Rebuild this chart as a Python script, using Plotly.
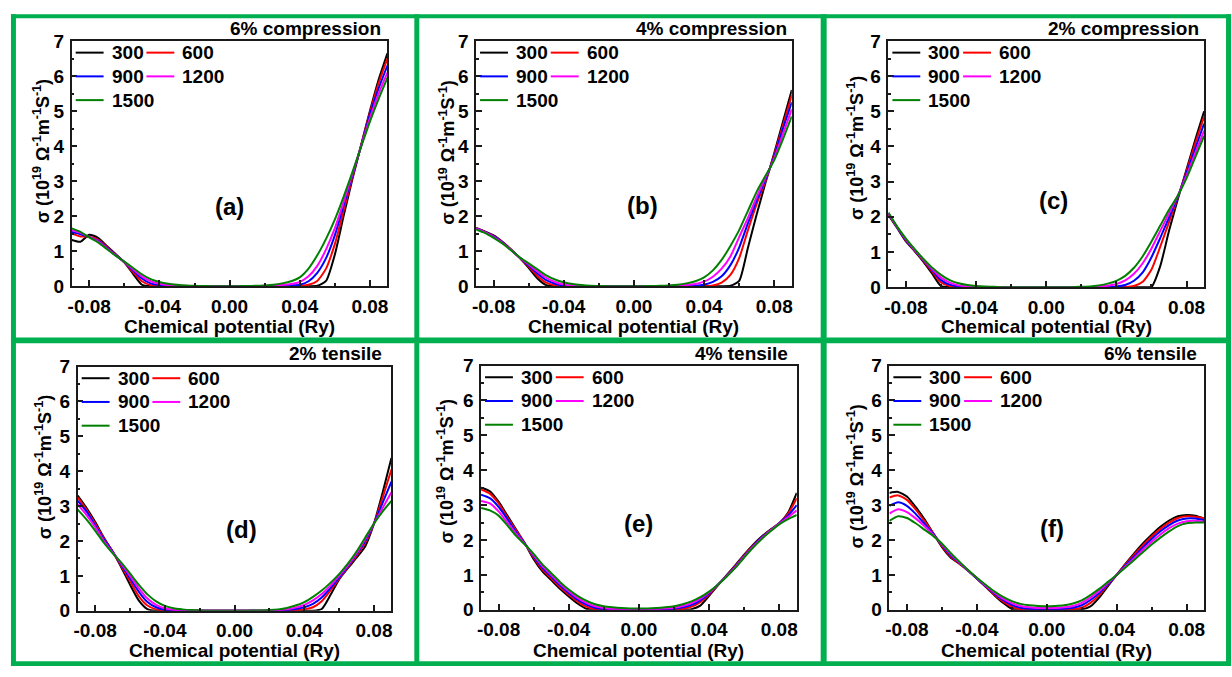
import plotly.graph_objects as go

W, H = 1232, 677

# Chemical potential grid (Ry)
mu = [-0.09, -0.085, -0.08, -0.075, -0.07, -0.065, -0.06, -0.055, -0.05, -0.045,
      -0.04, -0.035, -0.03, -0.025, -0.02, -0.015, -0.01, -0.005, 0.0,
      0.005, 0.01, 0.015, 0.02, 0.025, 0.03, 0.035, 0.04, 0.045, 0.05,
      0.055, 0.06, 0.065, 0.07, 0.075, 0.08, 0.085, 0.09]

temps = ["300", "600", "900", "1200", "1500"]
colors = ["#000000", "#FF0000", "#0000FF", "#FF00FF", "#008000"]

# sigma (1e19 Ohm^-1 m^-1 s^-1), 6% compression
a300 = [1.32, 1.27, 1.47, 1.38, 1.15, 0.92, 0.68, 0.35, 0.04, 0, 0,
        0, 0, 0, 0, 0, 0, 0, 0, 0, 0, 0, 0, 0, 0, 0,
        0, 0, 0.01, 0.15, 0.90, 2.00, 3.05, 4.03, 5.00, 5.90, 6.65]
a600 = [1.50, 1.42, 1.41, 1.33, 1.12, 0.90, 0.68, 0.40, 0.14, 0.03, 0.01,
        0, 0, 0, 0, 0, 0, 0, 0, 0, 0, 0, 0, 0, 0, 0,
        0.01, 0.04, 0.15, 0.50, 1.20, 2.15, 3.10, 4.02, 4.95, 5.80, 6.50]
a900 = [1.55, 1.48, 1.40, 1.30, 1.10, 0.89, 0.69, 0.45, 0.22, 0.08, 0.03,
        0.01, 0, 0, 0, 0, 0, 0, 0, 0, 0, 0, 0, 0, 0, 0.02,
        0.04, 0.14, 0.38, 0.80, 1.45, 2.30, 3.15, 4.00, 4.90, 5.65, 6.30]
a1200 = [1.60, 1.52, 1.40, 1.28, 1.08, 0.88, 0.69, 0.48, 0.28, 0.14, 0.07,
         0.03, 0.01, 0.01, 0, 0, 0, 0, 0, 0, 0, 0, 0.01, 0.01, 0.03, 0.06,
         0.12, 0.28, 0.58, 1.05, 1.65, 2.40, 3.20, 4.00, 4.80, 5.50, 6.10]
a1500 = [1.65, 1.55, 1.39, 1.25, 1.06, 0.87, 0.70, 0.52, 0.34, 0.20, 0.12,
         0.07, 0.04, 0.02, 0.01, 0.005, 0, 0, 0, 0, 0.005, 0.01, 0.02, 0.04, 0.08, 0.14,
         0.25, 0.50, 0.88, 1.35, 1.90, 2.55, 3.25, 3.98, 4.70, 5.35, 5.95]

# 4% compression
b300 = [1.66, 1.56, 1.45, 1.27, 1.05, 0.80, 0.52, 0.22, 0.03, 0, 0,
        0, 0, 0, 0, 0, 0, 0, 0, 0, 0, 0, 0, 0, 0, 0,
        0, 0, 0, 0.01, 0.15, 1.10, 2.05, 2.95, 3.80, 4.70, 5.60]
b600 = [1.66, 1.55, 1.43, 1.26, 1.04, 0.80, 0.56, 0.29, 0.10, 0.02, 0,
        0, 0, 0, 0, 0, 0, 0, 0, 0, 0, 0, 0, 0, 0, 0,
        0, 0.02, 0.10, 0.32, 0.80, 1.60, 2.35, 3.00, 3.75, 4.60, 5.45]
b900 = [1.65, 1.55, 1.42, 1.25, 1.03, 0.81, 0.59, 0.36, 0.17, 0.07, 0.02,
        0.01, 0, 0, 0, 0, 0, 0, 0, 0, 0, 0, 0, 0, 0, 0.01,
        0.04, 0.12, 0.28, 0.60, 1.10, 1.80, 2.45, 3.05, 3.70, 4.50, 5.25]
b1200 = [1.64, 1.54, 1.40, 1.24, 1.03, 0.81, 0.62, 0.42, 0.24, 0.12, 0.05,
         0.02, 0.01, 0.005, 0, 0, 0, 0, 0, 0, 0, 0, 0.01, 0.02, 0.03, 0.06,
         0.13, 0.27, 0.50, 0.85, 1.40, 1.95, 2.55, 3.10, 3.65, 4.35, 5.05]
b1500 = [1.62, 1.52, 1.38, 1.22, 1.02, 0.82, 0.65, 0.48, 0.31, 0.19, 0.11,
         0.06, 0.03, 0.01, 0.005, 0, 0, 0, 0, 0, 0.005, 0.01, 0.02, 0.04, 0.08, 0.14,
         0.25, 0.45, 0.75, 1.15, 1.60, 2.15, 2.70, 3.15, 3.60, 4.20, 4.85]

# 2% compression
c300 = [2.05, 1.68, 1.30, 1.02, 0.72, 0.38, 0.03, 0, 0, 0, 0,
        0, 0, 0, 0, 0, 0, 0, 0, 0, 0, 0, 0, 0, 0, 0,
        0, 0, 0, 0, 0.01, 0.60, 1.60, 2.50, 3.35, 4.20, 5.00]
c600 = [2.08, 1.70, 1.32, 1.04, 0.75, 0.44, 0.13, 0.03, 0.01, 0, 0,
        0, 0, 0, 0, 0, 0, 0, 0, 0, 0, 0, 0, 0, 0, 0,
        0, 0, 0.03, 0.15, 0.50, 1.15, 1.85, 2.55, 3.30, 4.10, 4.85]
c900 = [2.10, 1.70, 1.34, 1.05, 0.77, 0.48, 0.20, 0.07, 0.02, 0.01, 0,
        0, 0, 0, 0, 0, 0, 0, 0, 0, 0, 0, 0, 0, 0, 0.01,
        0.02, 0.06, 0.18, 0.42, 0.85, 1.40, 1.98, 2.57, 3.25, 3.95, 4.65]
c1200 = [2.10, 1.71, 1.36, 1.06, 0.78, 0.51, 0.27, 0.13, 0.05, 0.02, 0.01,
         0, 0, 0, 0, 0, 0, 0, 0, 0, 0, 0, 0, 0, 0.01, 0.04,
         0.09, 0.19, 0.38, 0.68, 1.10, 1.60, 2.10, 2.60, 3.18, 3.82, 4.45]
c1500 = [2.12, 1.72, 1.38, 1.08, 0.80, 0.55, 0.35, 0.20, 0.11, 0.06, 0.03,
         0.015, 0.01, 0, 0, 0, 0, 0, 0, 0, 0, 0, 0.01, 0.02, 0.05, 0.10,
         0.18, 0.32, 0.55, 0.88, 1.30, 1.75, 2.20, 2.60, 3.10, 3.70, 4.30]

# 2% tensile
d300 = [3.30, 2.95, 2.55, 2.10, 1.70, 1.25, 0.75, 0.30, 0.05, 0, 0,
        0, 0, 0, 0, 0, 0, 0, 0, 0, 0, 0, 0, 0, 0, 0,
        0, 0, 0.05, 0.45, 0.90, 1.22, 1.52, 1.85, 2.50, 3.40, 4.38]
d600 = [3.25, 2.90, 2.50, 2.08, 1.70, 1.28, 0.85, 0.42, 0.15, 0.04, 0.01,
        0, 0, 0, 0, 0, 0, 0, 0, 0, 0, 0, 0, 0, 0, 0.02,
        0.04, 0.10, 0.27, 0.58, 0.92, 1.25, 1.58, 1.95, 2.50, 3.25, 4.05]
d900 = [3.15, 2.85, 2.45, 2.05, 1.70, 1.32, 0.93, 0.55, 0.25, 0.10, 0.03,
        0.01, 0, 0, 0, 0, 0, 0, 0, 0, 0, 0, 0, 0, 0.02, 0.05,
        0.10, 0.20, 0.38, 0.65, 0.95, 1.27, 1.62, 2.00, 2.50, 3.10, 3.70]
d1200 = [3.05, 2.75, 2.40, 2.00, 1.68, 1.35, 1.00, 0.65, 0.35, 0.17, 0.07,
         0.03, 0.01, 0, 0, 0, 0, 0, 0, 0, 0, 0, 0, 0.02, 0.04, 0.09,
         0.17, 0.30, 0.48, 0.72, 1.00, 1.30, 1.65, 2.05, 2.50, 2.95, 3.40]
d1500 = [2.90, 2.62, 2.30, 1.95, 1.65, 1.38, 1.07, 0.75, 0.47, 0.27, 0.14,
         0.07, 0.04, 0.02, 0.01, 0, 0, 0, 0, 0, 0.005, 0.01, 0.02, 0.04, 0.08, 0.15,
         0.25, 0.40, 0.58, 0.80, 1.05, 1.35, 1.70, 2.10, 2.50, 2.85, 3.15]

# 4% tensile
e300 = [3.50, 3.40, 3.10, 2.70, 2.30, 1.90, 1.45, 1.10, 0.85, 0.60, 0.38, 0.18, 0.03, 0, 0, 0, 0, 0, 0,
        0, 0, 0, 0, 0, 0.02, 0.12, 0.40, 0.70, 0.99, 1.28, 1.58, 1.86, 2.10, 2.30, 2.48, 2.78, 3.35]
e600 = [3.45, 3.33, 3.05, 2.65, 2.28, 1.90, 1.50, 1.15, 0.90, 0.65, 0.43, 0.24, 0.09, 0.02, 0, 0, 0, 0, 0,
        0, 0, 0, 0.01, 0.03, 0.09, 0.22, 0.44, 0.71, 0.98, 1.26, 1.56, 1.84, 2.08, 2.29, 2.48, 2.75, 3.20]
e900 = [3.30, 3.20, 2.95, 2.60, 2.23, 1.90, 1.53, 1.20, 0.95, 0.70, 0.48, 0.29, 0.15, 0.06, 0.02, 0.01, 0, 0, 0,
        0, 0, 0.01, 0.03, 0.07, 0.14, 0.27, 0.47, 0.72, 0.97, 1.24, 1.54, 1.82, 2.07, 2.28, 2.48, 2.70, 3.00]
e1200 = [3.12, 3.05, 2.82, 2.50, 2.18, 1.88, 1.56, 1.25, 1.00, 0.75, 0.53, 0.34, 0.20, 0.10, 0.05, 0.02, 0.01, 0.01, 0.01,
         0.01, 0.02, 0.04, 0.06, 0.11, 0.19, 0.32, 0.50, 0.72, 0.96, 1.22, 1.52, 1.80, 2.05, 2.27, 2.47, 2.65, 2.85]
e1500 = [2.92, 2.85, 2.70, 2.42, 2.12, 1.87, 1.60, 1.30, 1.05, 0.80, 0.58, 0.40, 0.26, 0.16, 0.10, 0.07, 0.05, 0.04, 0.04,
         0.04, 0.05, 0.07, 0.10, 0.16, 0.24, 0.36, 0.52, 0.72, 0.95, 1.20, 1.50, 1.78, 2.03, 2.25, 2.45, 2.60, 2.72]

# 6% tensile
f300 = [3.35, 3.38, 3.25, 2.95, 2.60, 2.20, 1.80, 1.50, 1.32, 1.12, 0.90, 0.66, 0.42, 0.20, 0.03, 0, 0, 0, 0,
        0, 0, 0, 0.01, 0.10, 0.35, 0.68, 1.00, 1.32, 1.62, 1.90, 2.15, 2.38, 2.56, 2.68, 2.72, 2.70, 2.62]
f600 = [3.22, 3.28, 3.15, 2.88, 2.55, 2.20, 1.83, 1.53, 1.33, 1.12, 0.90, 0.67, 0.44, 0.24, 0.09, 0.02, 0.005, 0, 0,
        0, 0.01, 0.02, 0.06, 0.20, 0.42, 0.72, 1.00, 1.30, 1.58, 1.85, 2.10, 2.32, 2.50, 2.63, 2.68, 2.67, 2.62]
f900 = [2.98, 3.08, 2.98, 2.75, 2.47, 2.18, 1.86, 1.56, 1.35, 1.13, 0.90, 0.68, 0.47, 0.28, 0.14, 0.06, 0.03, 0.02, 0.02,
        0.02, 0.03, 0.06, 0.13, 0.28, 0.48, 0.74, 1.00, 1.27, 1.53, 1.79, 2.03, 2.25, 2.43, 2.56, 2.62, 2.62, 2.57]
f1200 = [2.76, 2.88, 2.80, 2.62, 2.40, 2.15, 1.88, 1.60, 1.36, 1.13, 0.91, 0.70, 0.50, 0.32, 0.19, 0.11, 0.07, 0.05, 0.05,
         0.05, 0.07, 0.11, 0.20, 0.35, 0.54, 0.77, 1.00, 1.24, 1.48, 1.72, 1.95, 2.16, 2.34, 2.47, 2.54, 2.55, 2.52]
f1500 = [2.55, 2.68, 2.63, 2.48, 2.30, 2.12, 1.90, 1.63, 1.38, 1.14, 0.92, 0.72, 0.53, 0.37, 0.25, 0.17, 0.13, 0.11, 0.10,
         0.11, 0.13, 0.18, 0.27, 0.42, 0.60, 0.80, 1.00, 1.21, 1.43, 1.65, 1.87, 2.07, 2.25, 2.40, 2.48, 2.50, 2.50]

panel_series = [
    [a300, a600, a900, a1200, a1500],
    [b300, b600, b900, b1200, b1500],
    [c300, c600, c900, c1200, c1500],
    [d300, d600, d900, d1200, d1500],
    [e300, e600, e900, e1200, e1500],
    [f300, f600, f900, f1200, f1500],
]
panel_titles = ["6% compression", "4% compression", "2% compression",
                "2% tensile", "4% tensile", "6% tensile"]
panel_letters = ["(a)", "(b)", "(c)", "(d)", "(e)", "(f)"]
letter_pos = [(0.0, 2.27), (0.005, 2.3), (0.004, 2.47), (0.004, 2.32), (0.0, 2.46), (0.003, 2.34)]

x_tickvals = [-0.08, -0.04, 0.0, 0.04, 0.08]
x_ticktext = ["-0.08", "-0.04", "0.00", "0.04", "0.08"]
y_tickvals = [0, 1, 2, 3, 4, 5, 6, 7]

# plot-area boxes in pixels: left, right, top, bottom
boxes = [(68, 385, 32, 285), (474, 791, 32, 285), (888, 1205, 32, 286),
         (74, 389, 368, 620), (479, 796, 367, 619), (889, 1205, 367, 619)]
ylabel_pos = [(38, 146), (445, 147), (855, 143), (40, 472), (443, 476), (855, 482)]
title_pos = [(381, 19), (788, 19), (1202, 19), (382, 354), (789, 354), (1200, 354)]
xlabel_y = [327, 327, 327, 661, 661, 661]

FONT = "Liberation Sans, Arial, sans-serif"
AXC = "#1a1a1a"
FRAME = "#00B050"


def px(x):
    return x / W


def py(y):
    return 1 - y / H


fig = go.Figure()
layout = dict(width=W, height=H, autosize=False, margin=dict(l=0, r=0, t=0, b=0),
              paper_bgcolor="white", plot_bgcolor="white", showlegend=False,
              font=dict(family=FONT, size=19, color="black", weight="bold"))
shapes = []
annotations = []

for p in range(6):
    n = "" if p == 0 else str(p + 1)
    xref, yref = "x" + n, "y" + n
    for vals, col, t in zip(panel_series[p], colors, temps):
        fig.add_trace(go.Scatter(x=mu, y=vals, mode="lines", name=t,
                                 line=dict(color=col, width=2, shape="spline", smoothing=0.6),
                                 xaxis=xref, yaxis=yref, hoverinfo="skip"))
    l, r, t_, b = boxes[p]
    layout["xaxis" + n] = dict(
        domain=[px(l), px(r)], range=[-0.09, 0.09], anchor=yref,
        tickmode="array", tickvals=x_tickvals, ticktext=x_ticktext,
        ticks="inside", ticklen=6, tickwidth=1.5, tickcolor=AXC,
        minor=dict(tickvals=[-0.06, -0.02, 0.02, 0.06], ticks="inside", ticklen=3,
                   tickwidth=1.5, tickcolor=AXC),
        showline=True, linecolor=AXC, linewidth=1.5, mirror=True,
        showgrid=False, zeroline=False, ticklabelstandoff=2,
        tickfont=dict(family=FONT, size=19, color="black", weight="bold"))
    layout["yaxis" + n] = dict(
        domain=[py(b), py(t_)], range=[0, 7], anchor=xref,
        tickmode="array", tickvals=y_tickvals,
        ticks="inside", ticklen=6, tickwidth=1.5, tickcolor=AXC,
        minor=dict(tickvals=[0.5, 1.5, 2.5, 3.5, 4.5, 5.5, 6.5], ticks="inside", ticklen=3,
                   tickwidth=1.5, tickcolor=AXC),
        showline=True, linecolor=AXC, linewidth=1.5, mirror=True,
        showgrid=False, zeroline=False, ticklabelstandoff=2,
        tickfont=dict(family=FONT, size=19, color="black", weight="bold"))

    # panel title
    tx, ty = title_pos[p]
    annotations.append(dict(text=panel_titles[p], x=px(tx), y=py(ty), xref="paper", yref="paper",
                            xanchor="right", yanchor="middle", showarrow=False,
                            font=dict(family=FONT, size=19, color="black", weight="bold")))
    # panel letter
    lx, ly = letter_pos[p]
    annotations.append(dict(text=panel_letters[p], x=lx, y=ly, xref=xref, yref=yref,
                            xanchor="center", yanchor="middle", showarrow=False,
                            font=dict(family=FONT, size=24, color="black", weight="bold")))
    # x title
    annotations.append(dict(text="Chemical potential (Ry)", x=px((l + r) / 2), y=py(xlabel_y[p]),
                            xref="paper", yref="paper", xanchor="center", yanchor="middle",
                            showarrow=False,
                            font=dict(family=FONT, size=19, color="black", weight="bold")))
    # y title
    yx, yy = ylabel_pos[p]
    annotations.append(dict(text="\u03c3 (10<sup>19</sup> \u03a9<sup>-1</sup>m<sup>-1</sup>S<sup>-1</sup>)",
                            x=px(yx), y=py(yy), xref="paper", yref="paper",
                            xanchor="center", yanchor="middle", textangle=-90, showarrow=False,
                            font=dict(family=FONT, size=18, color="black", weight="bold")))
    # legend: two columns, three rows
    for k, (col, tname) in enumerate(zip(colors, temps)):
        row, cc = k // 2, k % 2
        x0 = l + 4 + cc * 71
        yrow = t_ + 12 + row * 24.5
        shapes.append(dict(type="line", xref="paper", yref="paper",
                           x0=px(x0), x1=px(x0 + 28), y0=py(yrow), y1=py(yrow),
                           line=dict(color=col, width=2)))
        annotations.append(dict(text=tname, x=px(x0 + 34), y=py(yrow), xref="paper", yref="paper",
                                xanchor="left", yanchor="middle", showarrow=False,
                                font=dict(family=FONT, size=19, color="black", weight="bold")))

# green frame around the six panels
frame_rects = [(7, 1232, 4.5, 8.5), (7, 1232, 338, 344), (7, 1232, 672, 677),
               (7, 12, 4.5, 677), (412, 417, 4.5, 677), (820, 826, 4.5, 677), (1227, 1232, 4.5, 677)]
for x0, x1, y0, y1 in frame_rects:
    shapes.append(dict(type="rect", xref="paper", yref="paper", x0=px(x0), x1=px(x1),
                       y0=py(y1), y1=py(y0), fillcolor=FRAME, line=dict(width=0), layer="below"))

layout["shapes"] = shapes
layout["annotations"] = annotations
fig.update_layout(**layout)
fig.write_html("out.html")
